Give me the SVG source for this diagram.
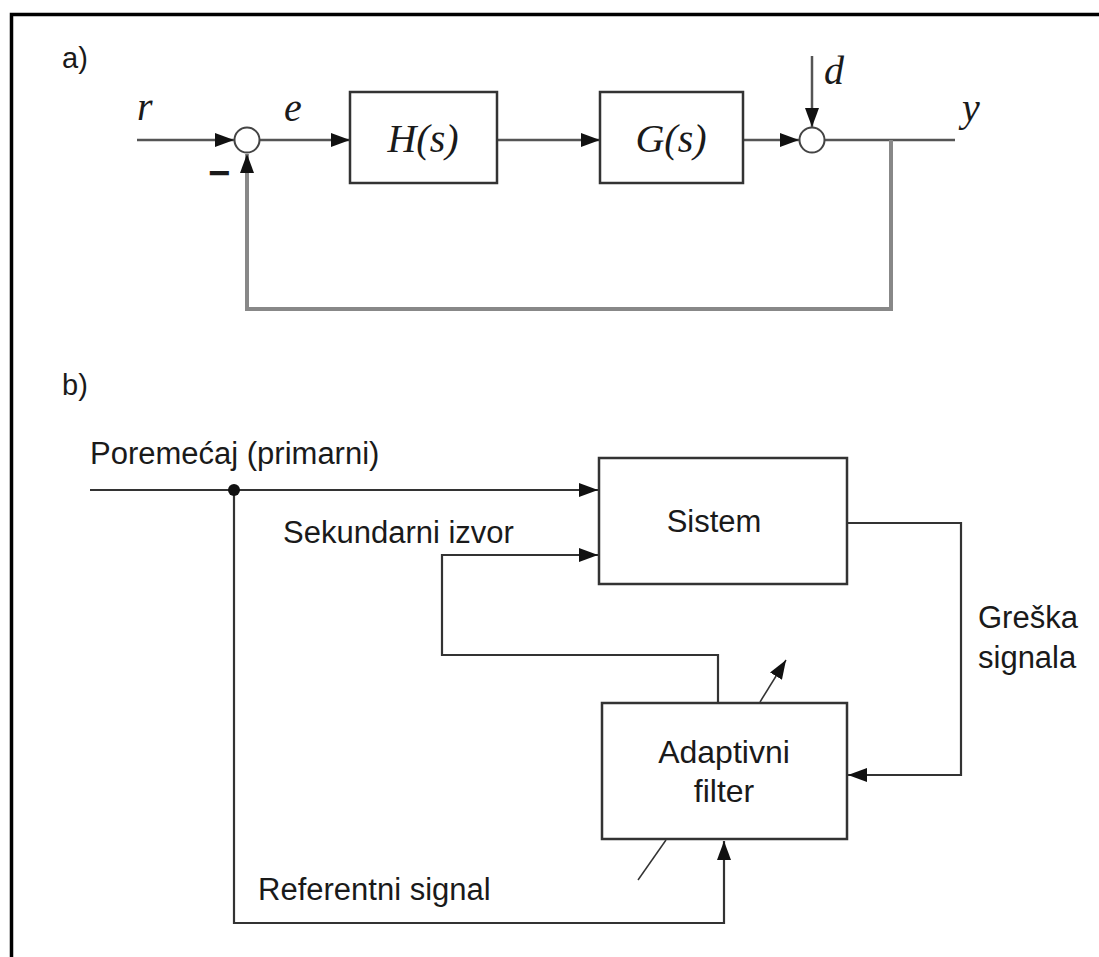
<svg xmlns="http://www.w3.org/2000/svg" width="1099" height="957" viewBox="0 0 1099 957">
<style>
.sans{font-family:"Liberation Sans",Arial,sans-serif;fill:#1a1a1a}
.ser{font-family:"Liberation Serif","Times New Roman",serif;font-style:italic;fill:#1a1a1a}
.box{fill:#fff;stroke:#333;stroke-width:2.5}
.la{fill:none;stroke:#555;stroke-width:2.5}
.lb{fill:none;stroke:#333;stroke-width:2.2}
.fb{fill:none;stroke:#888;stroke-width:4}
</style>
<defs>
<marker id="ah" viewBox="0 0 19 14" refX="19" refY="7" markerWidth="19" markerHeight="14" markerUnits="userSpaceOnUse" orient="auto">
<path d="M0,0 L19,7 L0,14 Z" fill="#111"/>
</marker>
</defs>
<rect width="1099" height="957" fill="#fff"/>
<path d="M11.5,957 V14.5 H1099" fill="none" stroke="#000" stroke-width="3.5"/>

<text class="sans" x="62" y="68" font-size="29">a)</text>
<text class="sans" x="62" y="395" font-size="29">b)</text>

<g id="connectors">
<path class="la" d="M137,140 H234" marker-end="url(#ah)"/>
<path class="la" d="M260,140 H350" marker-end="url(#ah)"/>
<path class="la" d="M497,140 H600" marker-end="url(#ah)"/>
<path class="la" d="M743,140 H799" marker-end="url(#ah)"/>
<path class="la" d="M812,56 V127" marker-end="url(#ah)"/>
<path class="la" d="M825,140 H955"/>
<path class="fb" d="M891,140 V309 H247 V154" marker-end="url(#ah)"/>

<path class="lb" d="M90,490 H598" marker-end="url(#ah)"/>
<path class="lb" d="M234,490 V923 H724 V841" marker-end="url(#ah)"/>
<path class="lb" d="M718,703 V655 H442 V555 H598" marker-end="url(#ah)"/>
<path class="lb" d="M847,523 H961 V775 H848" marker-end="url(#ah)"/>
<path d="M638,880 L666,840" stroke="#333" stroke-width="1.5" fill="none"/>
<path d="M760,702 L786,660" stroke="#333" stroke-width="1.5" fill="none" marker-end="url(#ah)"/>
<circle cx="234" cy="490" r="6" fill="#111"/>
</g>

<g id="sum1">
<circle cx="247" cy="140" r="12.5" fill="#fff" stroke="#444" stroke-width="2"/>
</g>
<g id="sum2">
<circle cx="812" cy="140" r="12.5" fill="#fff" stroke="#444" stroke-width="2"/>
</g>
<g id="H">
<rect class="box" x="350" y="92" width="147" height="91"/>
<text class="ser" x="423" y="152" font-size="40" text-anchor="middle">H(s)</text>
</g>
<g id="G">
<rect class="box" x="600" y="92" width="143" height="91"/>
<text class="ser" x="671" y="152" font-size="40" text-anchor="middle">G(s)</text>
</g>

<text class="ser" x="137" y="120" font-size="40">r</text>
<text class="ser" x="284" y="121" font-size="40">e</text>
<text class="ser" x="824" y="84" font-size="40">d</text>
<text class="ser" x="962" y="121" font-size="40">y</text>
<text class="sans" x="219" y="186" font-size="38" text-anchor="middle" font-weight="bold">−</text>

<g id="sistem">
<rect class="box" x="599" y="458" width="248" height="126"/>
<text class="sans" x="714" y="532" font-size="31" text-anchor="middle">Sistem</text>
</g>
<g id="filter">
<rect class="box" x="602" y="703" width="245" height="136"/>
<text class="sans" x="724" y="763" font-size="32" text-anchor="middle">Adaptivni</text>
<text class="sans" x="724" y="802" font-size="32" text-anchor="middle">filter</text>
</g>

<text class="sans" x="90" y="464" font-size="31">Poremećaj (primarni)</text>
<text class="sans" x="283" y="543" font-size="31">Sekundarni izvor</text>
<text class="sans" x="978" y="628" font-size="31">Greška</text>
<text class="sans" x="978" y="668" font-size="31">signala</text>
<text class="sans" x="258" y="900" font-size="31">Referentni signal</text>
</svg>
